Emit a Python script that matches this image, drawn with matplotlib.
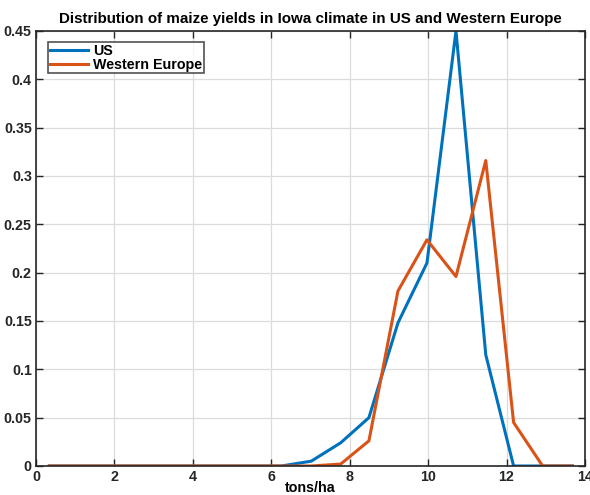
import matplotlib
matplotlib.use("Agg")
import matplotlib.pyplot as plt

x_vals = [0.34, 1.08, 1.82, 2.56, 3.30, 4.04, 4.78, 5.52, 6.26, 7.02, 7.77, 8.49,
          9.23, 9.97, 10.71, 11.47, 12.18, 12.92, 13.68]
us = [0, 0, 0, 0, 0, 0, 0, 0, 0, 0.005, 0.024, 0.050,
      0.148, 0.210, 0.450, 0.115, 0, 0, 0]
we = [0, 0, 0, 0, 0, 0, 0, 0, 0, 0, 0.002, 0.026,
      0.181, 0.234, 0.196, 0.316, 0.045, 0, 0]
xticks = [0, 2, 4, 6, 8, 10, 12, 14]
yticks = [0, 0.05, 0.1, 0.15, 0.2, 0.25, 0.3, 0.35, 0.4, 0.45]
ytick_labels = ["0", "0.05", "0.1", "0.15", "0.2", "0.25", "0.3", "0.35", "0.4", "0.45"]

plt.rcParams['font.family'] = ['Liberation Sans', 'DejaVu Sans']
plt.rcParams['font.weight'] = 'bold'

fig = plt.figure(figsize=(5.9, 4.95), dpi=100)
ax = fig.add_axes([0.061, 0.0586, 0.9305, 0.8788])

ax.plot(x_vals, us, color='#0072BD', lw=2.2, label='US')
ax.plot(x_vals, we, color='#D95319', lw=2.2, label='Western Europe')

ax.set_xlim(0, 14)
ax.set_ylim(0, 0.45)
ax.set_xticks(xticks)
ax.set_yticks(yticks)
ax.set_yticklabels(ytick_labels)
ax.grid(True, color='#dcdcdc', lw=0.9)
ax.set_axisbelow(True)
ax.tick_params(direction='in', top=True, right=True, length=5, width=1,
               labelsize=10.3, colors='#262626', pad=3)
for lab in ax.get_xticklabels() + ax.get_yticklabels():
    lab.set_fontweight('bold')
for s in ax.spines.values():
    s.set_color('#262626')
    s.set_linewidth(1.2)

ax.set_title('Distribution of maize yields in Iowa climate in US and Western Europe',
             fontsize=10.9, fontweight='bold', pad=6)
ax.set_xlabel('tons/ha', fontsize=10.3, fontweight='bold', labelpad=-2)

leg = ax.legend(loc='upper left', bbox_to_anchor=(0.022, 0.975), fontsize=10.3,
                frameon=True, fancybox=False, edgecolor='#262626',
                handlelength=2.7, handletextpad=0.3, borderpad=0.12,
                labelspacing=0.0, borderaxespad=0)
leg.get_frame().set_linewidth(1.2)
for t in leg.get_texts():
    t.set_fontweight('bold')

fig.savefig('out.png', dpi=100)
